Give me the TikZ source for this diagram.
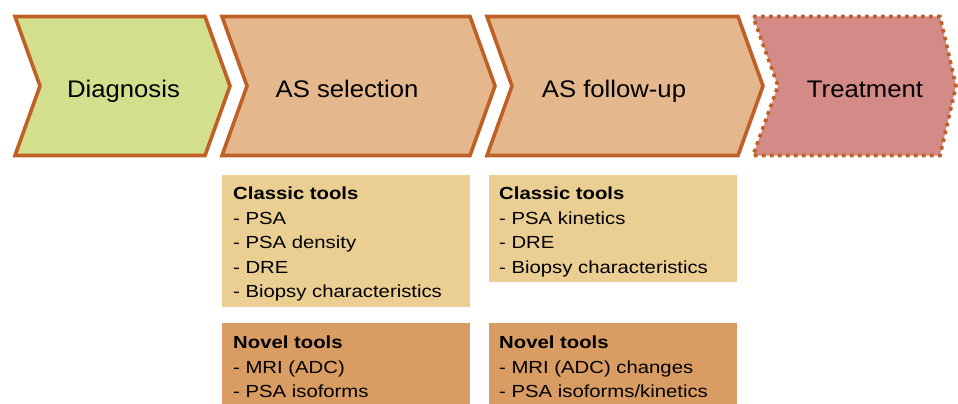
\documentclass[tikz,border=0pt]{standalone}
\usepackage{fontspec}
\setmainfont{Liberation Sans}
\newfontfamily\titlefont[FakeStretch=1.07]{Liberation Sans}
\newfontfamily\boxfont[FakeStretch=1.16]{Liberation Sans}
\definecolor{edge}{HTML}{BF6026}
\definecolor{diagfill}{HTML}{D3DF8C}
\definecolor{asfill}{HTML}{E4B88C}
\definecolor{treatfill}{HTML}{D48A86}
\definecolor{classicfill}{HTML}{EBCE92}
\definecolor{novelfill}{HTML}{D99C62}
\tikzset{
  chev/.style={draw=edge, line width=3.6pt, line join=miter},
  chevdot/.style={draw=edge, line width=3.6pt, dash pattern=on 3.6pt off 4.4pt},
  title/.style={anchor=base, inner sep=0pt, font=\titlefont\fontsize{24}{28}\selectfont},
  toolbox/.style={draw=none, inner sep=0pt, anchor=north west},
  tooltext/.style={anchor=north west, inner sep=0pt, align=left, font=\boxfont\fontsize{17.5}{24.5}\selectfont}
}
\begin{document}
\begin{tikzpicture}[x=1pt,y=-1pt]
\useasboundingbox (0,0) rectangle (958,404);
\clip (0,0) rectangle (958,404);
\fill[white] (0,0) rectangle (958,404);
% chevrons
\path[chev, fill=diagfill] (15,16.5) -- (205,16.5) -- (230,86) -- (205,155.5) -- (15,155.5) -- (40,86) -- cycle;
\path[chev, fill=asfill] (222,16.5) -- (470,16.5) -- (495,86) -- (470,155.5) -- (222,155.5) -- (247,86) -- cycle;
\path[chev, fill=asfill] (487,16.5) -- (738,16.5) -- (763,86) -- (738,155.5) -- (487,155.5) -- (512,86) -- cycle;
\path[chevdot, fill=treatfill] (753,16.5) -- (940,16.5) -- (956,86) -- (940,155.5) -- (753,155.5) -- (778,86) -- cycle;
% titles
\node[title] (diag) at (123.5,97.5) {Diagnosis};
\node[title] (assel) at (347,97.5) {AS selection};
\node[title] (asfol) at (614,97.5) {AS follow-up};
\node[title] (treat) at (865,97.5) {Treatment};
% tool boxes
\node[toolbox, fill=classicfill, minimum width=248pt, minimum height=132pt] (c1) at (222,175) {};
\node[toolbox, fill=classicfill, minimum width=248pt, minimum height=107pt] (c2) at (489,175) {};
\node[toolbox, fill=novelfill, minimum width=248pt, minimum height=90pt] (n1) at (222,323) {};
\node[toolbox, fill=novelfill, minimum width=248pt, minimum height=90pt] (n2) at (489,323) {};
\node[tooltext] (c1t) at (233,187) {\textbf{Classic tools}\\- PSA\\- PSA density\\- DRE\\- Biopsy characteristics};
\node[tooltext] (c2t) at (499,187) {\textbf{Classic tools}\\- PSA kinetics\\- DRE\\- Biopsy characteristics};
\node[tooltext] (n1t) at (233,336) {\textbf{Novel tools}\\- MRI (ADC)\\- PSA isoforms};
\node[tooltext] (n2t) at (499,336) {\textbf{Novel tools}\\- MRI (ADC) changes\\- PSA isoforms/kinetics};
\end{tikzpicture}
\end{document}
